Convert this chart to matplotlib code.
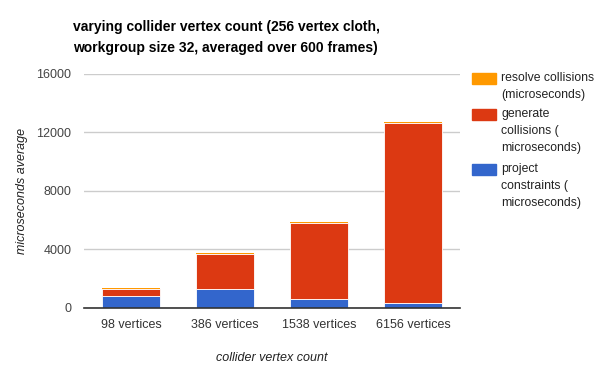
import numpy as np
import matplotlib.pyplot as plt
from matplotlib.patches import Rectangle

plt.rcParams['font.family'] = ['Liberation Sans', 'DejaVu Sans']

categories = ["98 vertices", "386 vertices", "1538 vertices", "6156 vertices"]
project = [840, 1300, 620, 340]
generate = [460, 2380, 5180, 12310]
resolve = [70, 60, 60, 60]

series_names = ["resolve collisions\n(microseconds)",
                "generate\ncollisions (\nmicroseconds)",
                "project\nconstraints (\nmicroseconds)"]
colors = ["#ff9900", "#dc3912", "#3366cc"]

W, H = 609, 381
fig = plt.figure(figsize=(W / 100, H / 100), dpi=100)
ax = fig.add_axes([84 / W, (H - 307.8) / H, 376 / W, 234 / H])

x = np.arange(len(categories))
w = 0.61
proj = np.array(project)
gen = np.array(generate)
res = np.array(resolve)
ax.bar(x, proj, w, color=colors[2], edgecolor="white", linewidth=0.6, zorder=3)
ax.bar(x, gen, w, bottom=proj, color=colors[1], edgecolor="white", linewidth=0.6, zorder=3)
ax.bar(x, res, w, bottom=proj + gen, color=colors[0], linewidth=0, zorder=3)

ax.set_xlim(-0.5, 3.5)
ax.set_ylim(0, 16000)
ax.set_yticks([0, 4000, 8000, 12000, 16000])
ax.yaxis.grid(True, color="#cccccc", linewidth=1, zorder=0)
for s in ["top", "right", "left"]:
    ax.spines[s].set_visible(False)
ax.spines["bottom"].set_color("#333333")
ax.spines["bottom"].set_linewidth(1.2)
ax.spines["bottom"].set_zorder(4)
ax.tick_params(axis="x", length=0, labelsize=9, colors="#333333", pad=8)
ax.tick_params(axis="y", length=0, labelsize=9, colors="#444444", pad=9)
ax.set_xticks(x)
ax.set_xticklabels(categories)

ax.set_ylabel("microseconds average", style="italic", fontsize=9, color="#222222", labelpad=6)
ax.set_xlabel("collider vertex count", style="italic", fontsize=9, color="#222222", labelpad=15)

fig.text(73 / W, 1 - 37.5 / H,
         "varying collider vertex count (256 vertex cloth,\nworkgroup size 32, averaged over 600 frames)",
         fontsize=10, fontweight="bold", va="center", ha="left", multialignment="left",
         linespacing=1.65)

# legend drawn by hand so the swatch sits at the first text line
leg_top = [73, 109, 164]
for name, c, top in zip(series_names, colors, leg_top):
    fig.patches.append(Rectangle((472 / W, 1 - (top + 11) / H), 24 / W, 11 / H,
                                 color=c, transform=fig.transFigure))
    fig.text(501 / W, 1 - (top - 1) / H, name, fontsize=8.8, color="#222222",
             va="top", ha="left", linespacing=1.55)

fig.savefig("out.png", dpi=100)
